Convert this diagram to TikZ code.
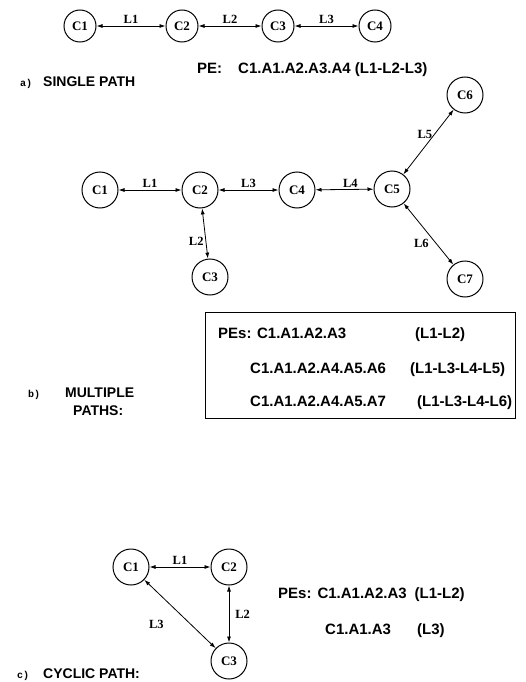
\documentclass[tikz,border=0pt]{standalone}
\usepackage{fontspec}
\setmainfont{Liberation Serif}
\setsansfont{Liberation Sans}
\setmonofont{Liberation Mono}
\usetikzlibrary{arrows.meta}

\begin{document}
\begin{tikzpicture}[x=1pt,y=-1pt,
    cell/.style={draw,circle,line width=1pt,minimum size=36pt,inner sep=0pt,
                 font=\bfseries\fontsize{13}{13}\selectfont},
    link/.style={{Latex[length=6pt,width=4pt]}-{Latex[length=6pt,width=4pt]},line width=0.8pt},
    lab/.style={font=\bfseries\fontsize{12.5}{12.5}\selectfont,inner sep=2pt},
    pe/.style={font=\sffamily\bfseries\fontsize{15}{15}\selectfont,anchor=base west,inner sep=0pt},
    tag/.style={font=\ttfamily\bfseries\fontsize{10}{10}\selectfont,anchor=base west,inner sep=0pt}]
    \useasboundingbox (0,0) rectangle (526,682);

    % a) single path
    \node[cell,minimum size=32pt] (a1) at (80,26) {C1};
    \node[cell,minimum size=32pt] (a2) at (182,26) {C2};
    \node[cell,minimum size=32pt] (a3) at (278,26) {C3};
    \node[cell,minimum size=32pt] (a4) at (375,26) {C4};

    \draw[link] (a1) -- node[lab,above] {L1} (a2);
    \draw[link] (a2) -- node[lab,above] {L2} (a3);
    \draw[link] (a3) -- node[lab,above] {L3} (a4);

    \node[pe] (pea) at (197,74) {PE:\hspace{16pt}C1.A1.A2.A3.A4 (L1-L2-L3)};
    \node[tag] (taga) at (20,87) {a)};
    \node[pe,font=\sffamily\bfseries\fontsize{14}{14}\selectfont] (namea) at (43,87) {SINGLE PATH};

    % b) multiple paths
    \node[cell] (b1) at (100,190) {C1};
    \node[cell] (b2) at (200,190) {C2};
    \node[cell] (b3) at (210,277) {C3};
    \node[cell] (b4) at (297,190) {C4};
    \node[cell] (b5) at (392,189) {C5};
    \node[cell] (b6) at (465,95) {C6};
    \node[cell] (b7) at (465,279) {C7};

    \draw[link] (b1) -- node[lab,above] {L1} (b2);
    \draw[link] (b2) -- node[lab,left,pos=0.66] {L2} (b3);
    \draw[link] (b2) -- node[lab,above] {L3} (b4);
    \draw[link] (b4) -- node[lab,above,pos=0.6] {L4} (b5);
    \draw[link] (b5) -- node[lab,left,pos=0.62] {L5} (b6);
    \draw[link] (b5) -- node[lab,below left,pos=0.55] {L6} (b7);

    \draw[line width=0.8pt] (205,312) rectangle (515,418);
    \node[pe] (peb1) at (218,338) {PEs: C1.A1.A2.A3};
    \node[pe] (lkb1) at (415,338) {(L1-L2)};
    \node[pe] (peb2) at (250,373) {C1.A1.A2.A4.A5.A6};
    \node[pe] (lkb2) at (410,373) {(L1-L3-L4-L5)};
    \node[pe] (peb3) at (250,406) {C1.A1.A2.A4.A5.A7};
    \node[pe] (lkb3) at (417,406) {(L1-L3-L4-L6)};

    \node[tag] (tagb) at (28,397) {b)};
    \node[pe,font=\sffamily\bfseries\fontsize{14}{14}\selectfont] (nameb) at (65,397) {MULTIPLE};
    \node[pe,font=\sffamily\bfseries\fontsize{14}{14}\selectfont] (nameb2) at (73,415) {PATHS:};

    % c) cyclic path
    \node[cell] (c1) at (131,567) {C1};
    \node[cell] (c2) at (229,567) {C2};
    \node[cell] (c3) at (229,661) {C3};

    \draw[link] (c1) -- node[lab,above] {L1} (c2);
    \draw[link] (c2) -- node[lab,right,xshift=4pt] {L2} (c3);
    \draw[link] (c1) -- node[lab,left=14pt,yshift=-10pt] {L3} (c3);

    \node[pe] (pec1) at (278,598) {PEs:\hspace{6pt}C1.A1.A2.A3\hspace{8pt}(L1-L2)};
    \node[pe] (pec2) at (325,634) {C1.A1.A3};
    \node[pe] (lkc2) at (417,634) {(L3)};

    \node[tag] (tagc) at (17,678) {c)};
    \node[pe,font=\sffamily\bfseries\fontsize{14}{14}\selectfont] (namec) at (43,678) {CYCLIC PATH:};
\end{tikzpicture}
\end{document}
